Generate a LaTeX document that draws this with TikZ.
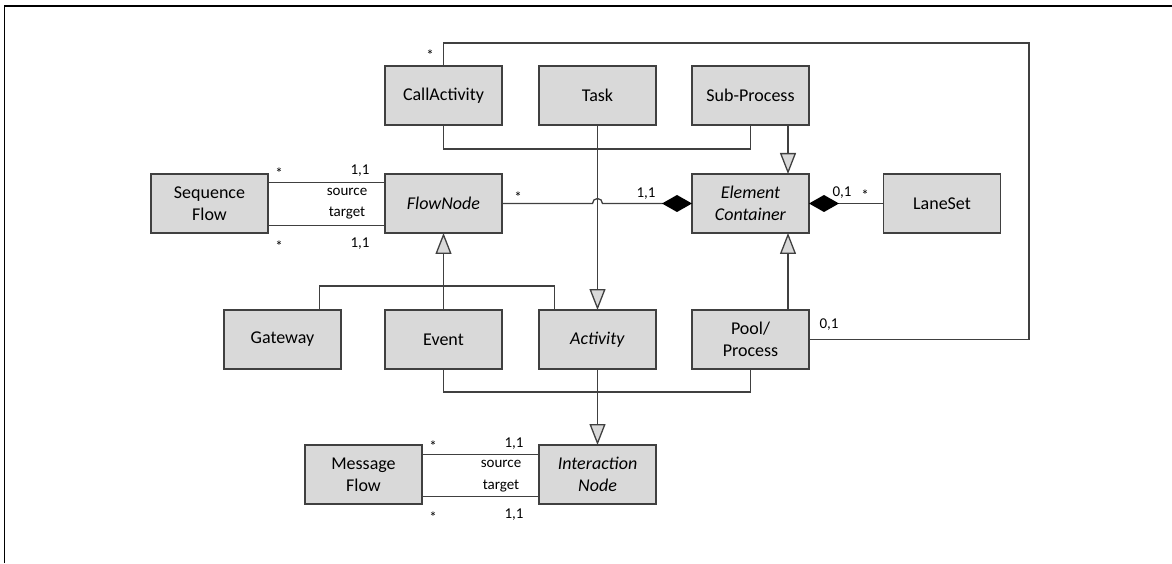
\documentclass[tikz,border=0pt]{standalone}
\usepackage{fontspec}
\setmainfont{Carlito}
\usetikzlibrary{arrows.meta,positioning,calc}
\definecolor{boxgray}{HTML}{D9D9D9}
\definecolor{edgegray}{HTML}{404040}

\begin{document}
\begin{tikzpicture}[x=1pt,y=1pt,
  box/.style={draw=edgegray,fill=boxgray,line width=1.6pt,minimum width=117pt,minimum height=59pt,
    inner sep=0pt,outer sep=0pt,align=center,font=\fontsize{18}{22}\selectfont},
  lbl/.style={anchor=base,inner sep=0pt,font=\fontsize{15}{18}\selectfont},
  con/.style={draw=edgegray,line width=1.3pt},
  gen/.style={con,-{Triangle[width=16pt,length=21pt,fill=boxgray]}},
  comp/.style={con,-{Diamond[width=17pt,length=30pt,color=black]}}]
\useasboundingbox (0,0) rectangle (1172,563);
\draw[line width=1.3pt] (4.6,0) |- (1172,557);
% boxes
\node[box] (fn) at (443.5,359.5) {\textit{FlowNode}};
\node[box,left=117pt of fn] (sf) {Sequence\\Flow};
\node[box,above=49pt of fn] (ca) {CallActivity};
\node[box,right=37pt of ca] (tk) {Task};
\node[box,right=36pt of tk] (sp) {Sub-Process};
\node[box,below=49pt of sp] (ec) {\textit{Element}\\\textit{Container}};
\node[box,right=74.5pt of ec] (ls) {LaneSet};
\node[box,below=77pt of fn] (ev) {Event};
\node[box,left=44pt of ev] (gw) {Gateway};
\node[box,right=37pt of ev] (ac) {\textit{Activity}};
\node[box,right=36pt of ac] (pp) {Pool/\\Process};
\node[box,below=76pt of ac] (in) {\textit{Interaction}\\\textit{Node}};
\node[box,left=117pt of in] (mf) {Message\\Flow};
\coordinate (wr) at (1029,520);
% generalizations
\draw[con] (ca.south) -- ++(0,-24) -| (sp.south);
\draw[gen] (tk.south) -- (ac.north);
\draw[gen] ([xshift=37.5pt]sp.south) -- ([xshift=37.5pt]ec.north);
\draw[con] ([xshift=37pt]gw.north) -- ++(0,24) -| ([xshift=-43pt]ac.north);
\draw[gen] (ev.north) -- (fn.south);
\draw[con] (ev.south) -- ++(0,-23) -| (pp.south);
\draw[gen] (ac.south) -- (in.north);
\draw[gen] ([xshift=37.5pt]pp.north) -- ([xshift=37.5pt]ec.south);
% associations
\draw[comp] (fn.east) -- ([xshift=-5pt]tk.south |- fn.east)
  arc[start angle=180,end angle=0,radius=5pt] -- (ec.west);
\draw[comp] (ls.west) -- (ec.east);
\draw[con] (ca.north) |- (wr) |- (pp.east);
\draw[con] ([yshift=21pt]sf.east) -- ([yshift=21pt]fn.west);
\draw[con] ([yshift=-22pt]sf.east) -- ([yshift=-22pt]fn.west);
\draw[con] ([yshift=20pt]mf.east) -- ([yshift=20pt]in.west);
\draw[con] ([yshift=-22pt]mf.east) -- ([yshift=-22pt]in.west);
% multiplicities and roles
\node[lbl] (sf1) at (279,384.5) {*};
\node[lbl] (fn1) at (360,388.5) {1,1};
\node[lbl] (sfs) at (347,367) {source};
\node[lbl] (sft) at (347,346) {target};
\node[lbl] (sf2) at (279,312) {*};
\node[lbl] (fn2) at (360,316) {1,1};
\node[lbl] (fnm) at (518,360.5) {*};
\node[lbl] (ecm) at (646,365.3) {1,1};
\node[lbl] (ecl) at (842,366) {0,1};
\node[lbl] (lsm) at (865,362) {*};
\node[lbl] (cam) at (430,502.5) {*};
\node[lbl] (ppm) at (829,234.3) {0,1};
\node[lbl] (mf1) at (433,111.5) {*};
\node[lbl] (in1) at (514,115.5) {1,1};
\node[lbl] (mfs) at (501,96) {source};
\node[lbl] (mft) at (501,74) {target};
\node[lbl] (mf2) at (433,41) {*};
\node[lbl] (in2) at (514,45) {1,1};
\end{tikzpicture}
\end{document}
